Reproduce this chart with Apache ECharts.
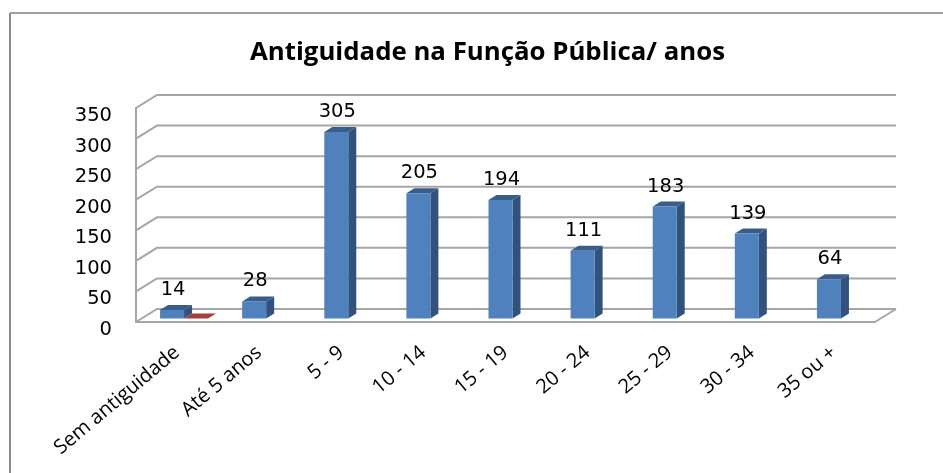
<!DOCTYPE html>
<html>
<head>
<meta charset="utf-8">
<script src="https://cdn.jsdelivr.net/npm/echarts@6/dist/echarts.min.js"></script>
<style>
html,body{margin:0;padding:0;background:#fff}
#main{width:943px;height:473px}
</style>
</head>
<body>
<div id="main"></div>
<script>
var categories = ['Sem antiguidade','Até 5 anos','5 - 9','10 - 14','15 - 19','20 - 24','25 - 29','30 - 34','35 ou +'];
var anos = [14,28,305,205,194,111,183,139,64];
var outros = [0];
var yTicks = [0,50,100,150,200,250,300,350];

var myChart = echarts.init(document.getElementById('main'));

// depth of the fake 3d box
var wallDx = 21, wallDy = -13;
var barW = 24, barDx = 8, barDy = -5;

function renderWall(params, api) {
  var p = api.coord([0, api.value(0)]);
  var size = api.size([1, 0]);
  var x0 = p[0] - size[0] / 2;
  var x1 = x0 + size[0] * categories.length;
  return {
    type: 'polyline',
    shape: {points: [[x0, p[1]], [x0 + wallDx, p[1] + wallDy], [x1 + wallDx, p[1] + wallDy]]},
    style: {fill: null, stroke: '#a6a6a6', lineWidth: 2}
  };
}

// floor edge on the right side
function renderFloor(params, api) {
  var p = api.coord([categories.length - 1, 0]);
  var size = api.size([1, 0]);
  var x1 = p[0] + size[0] / 2;
  return {
    type: 'line',
    shape: {x1: x1, y1: p[1], x2: x1 + wallDx, y2: p[1] + wallDy},
    style: {stroke: '#a6a6a6', lineWidth: 2}
  };
}

function box(x, y, base, colors) {
  return [
    {type: 'polygon', shape: {points: [[x + barW, y], [x + barW + barDx, y + barDy], [x + barW + barDx, base + barDy], [x + barW, base]]}, style: {fill: colors[1]}},
    {type: 'polygon', shape: {points: [[x, y], [x + barDx, y + barDy], [x + barW + barDx, y + barDy], [x + barW, y]]}, style: {fill: colors[2]}},
    {type: 'rect', shape: {x: x, y: y, width: barW, height: base - y}, style: {fill: colors[0]}}
  ];
}

function renderBlue(params, api) {
  var v = api.value(1);
  var p = api.coord([api.value(0), v]);
  var b = api.coord([api.value(0), 0]);
  var x = p[0] - 17, y = p[1] - 3.5;
  var kids = box(x, y, b[1] - 3.5, ['#4f81bd', '#30527c', '#385d8a']);
  kids.push({
    type: 'text',
    style: {
      text: String(v), x: x + barW / 2 + 1, y: y - 20,
      align: 'center', verticalAlign: 'middle',
      font: '19.5px "DejaVu Sans"', fill: '#000'
    }
  });
  return {type: 'group', children: kids};
}

function renderRed(params, api) {
  var p = api.coord([api.value(0), api.value(1)]);
  return {type: 'group', children: box(p[0] + 7, p[1] - 3.5, p[1] - 3.5, ['#c0504d', '#9b3d3a', '#a33f3c'])};
}

myChart.setOption({
  animation: false,
  title: {
    text: 'Antiguidade na Função Pública/ anos',
    left: 245,
    top: 35,
    textStyle: {fontFamily: 'Open Sans', fontWeight: 'bold', fontSize: 25.8, color: '#000'}
  },
  graphic: [
    {type: 'line', shape: {x1: 10, y1: 13, x2: 943, y2: 13}, style: {stroke: '#a0a0a0', lineWidth: 2}, silent: true},
    {type: 'line', shape: {x1: 10, y1: 13, x2: 10, y2: 473}, style: {stroke: '#8c8c8c', lineWidth: 2}, silent: true}
  ],
  grid: {left: 136, right: 68, top: 108, bottom: 151},
  xAxis: {
    type: 'category',
    data: categories,
    axisTick: {show: false},
    axisLine: {show: true, lineStyle: {color: '#a6a6a6', width: 2}},
    axisLabel: {rotate: 40, interval: 0, margin: 28, fontFamily: 'Open Sans', fontSize: 20, color: '#000'}
  },
  yAxis: {
    type: 'value',
    min: 0,
    max: 350,
    interval: 50,
    splitLine: {show: false},
    axisTick: {show: false},
    axisLine: {show: true, lineStyle: {color: '#a6a6a6', width: 2}},
    axisLabel: {margin: 24, verticalAlign: 'top', lineHeight: 16, fontFamily: 'DejaVu Sans', fontSize: 19.5, color: '#000'}
  },
  series: [
    {
      name: 'grelha',
      type: 'custom',
      silent: true,
      z: 1,
      renderItem: renderWall,
      encode: {y: 0},
      data: yTicks.map(function (v) { return [v]; })
    },
    {
      name: 'chao',
      type: 'custom',
      silent: true,
      z: 1,
      renderItem: renderFloor,
      data: [[0]]
    },
    {
      name: 'anos',
      type: 'custom',
      z: 3,
      renderItem: renderBlue,
      encode: {x: 0, y: 1},
      data: anos.map(function (v, i) { return [i, v]; })
    },
    {
      name: 'outros',
      type: 'custom',
      z: 2,
      renderItem: renderRed,
      encode: {x: 0, y: 1},
      data: outros.map(function (v, i) { return [i, v]; })
    }
  ]
});
</script>
</body>
</html>
